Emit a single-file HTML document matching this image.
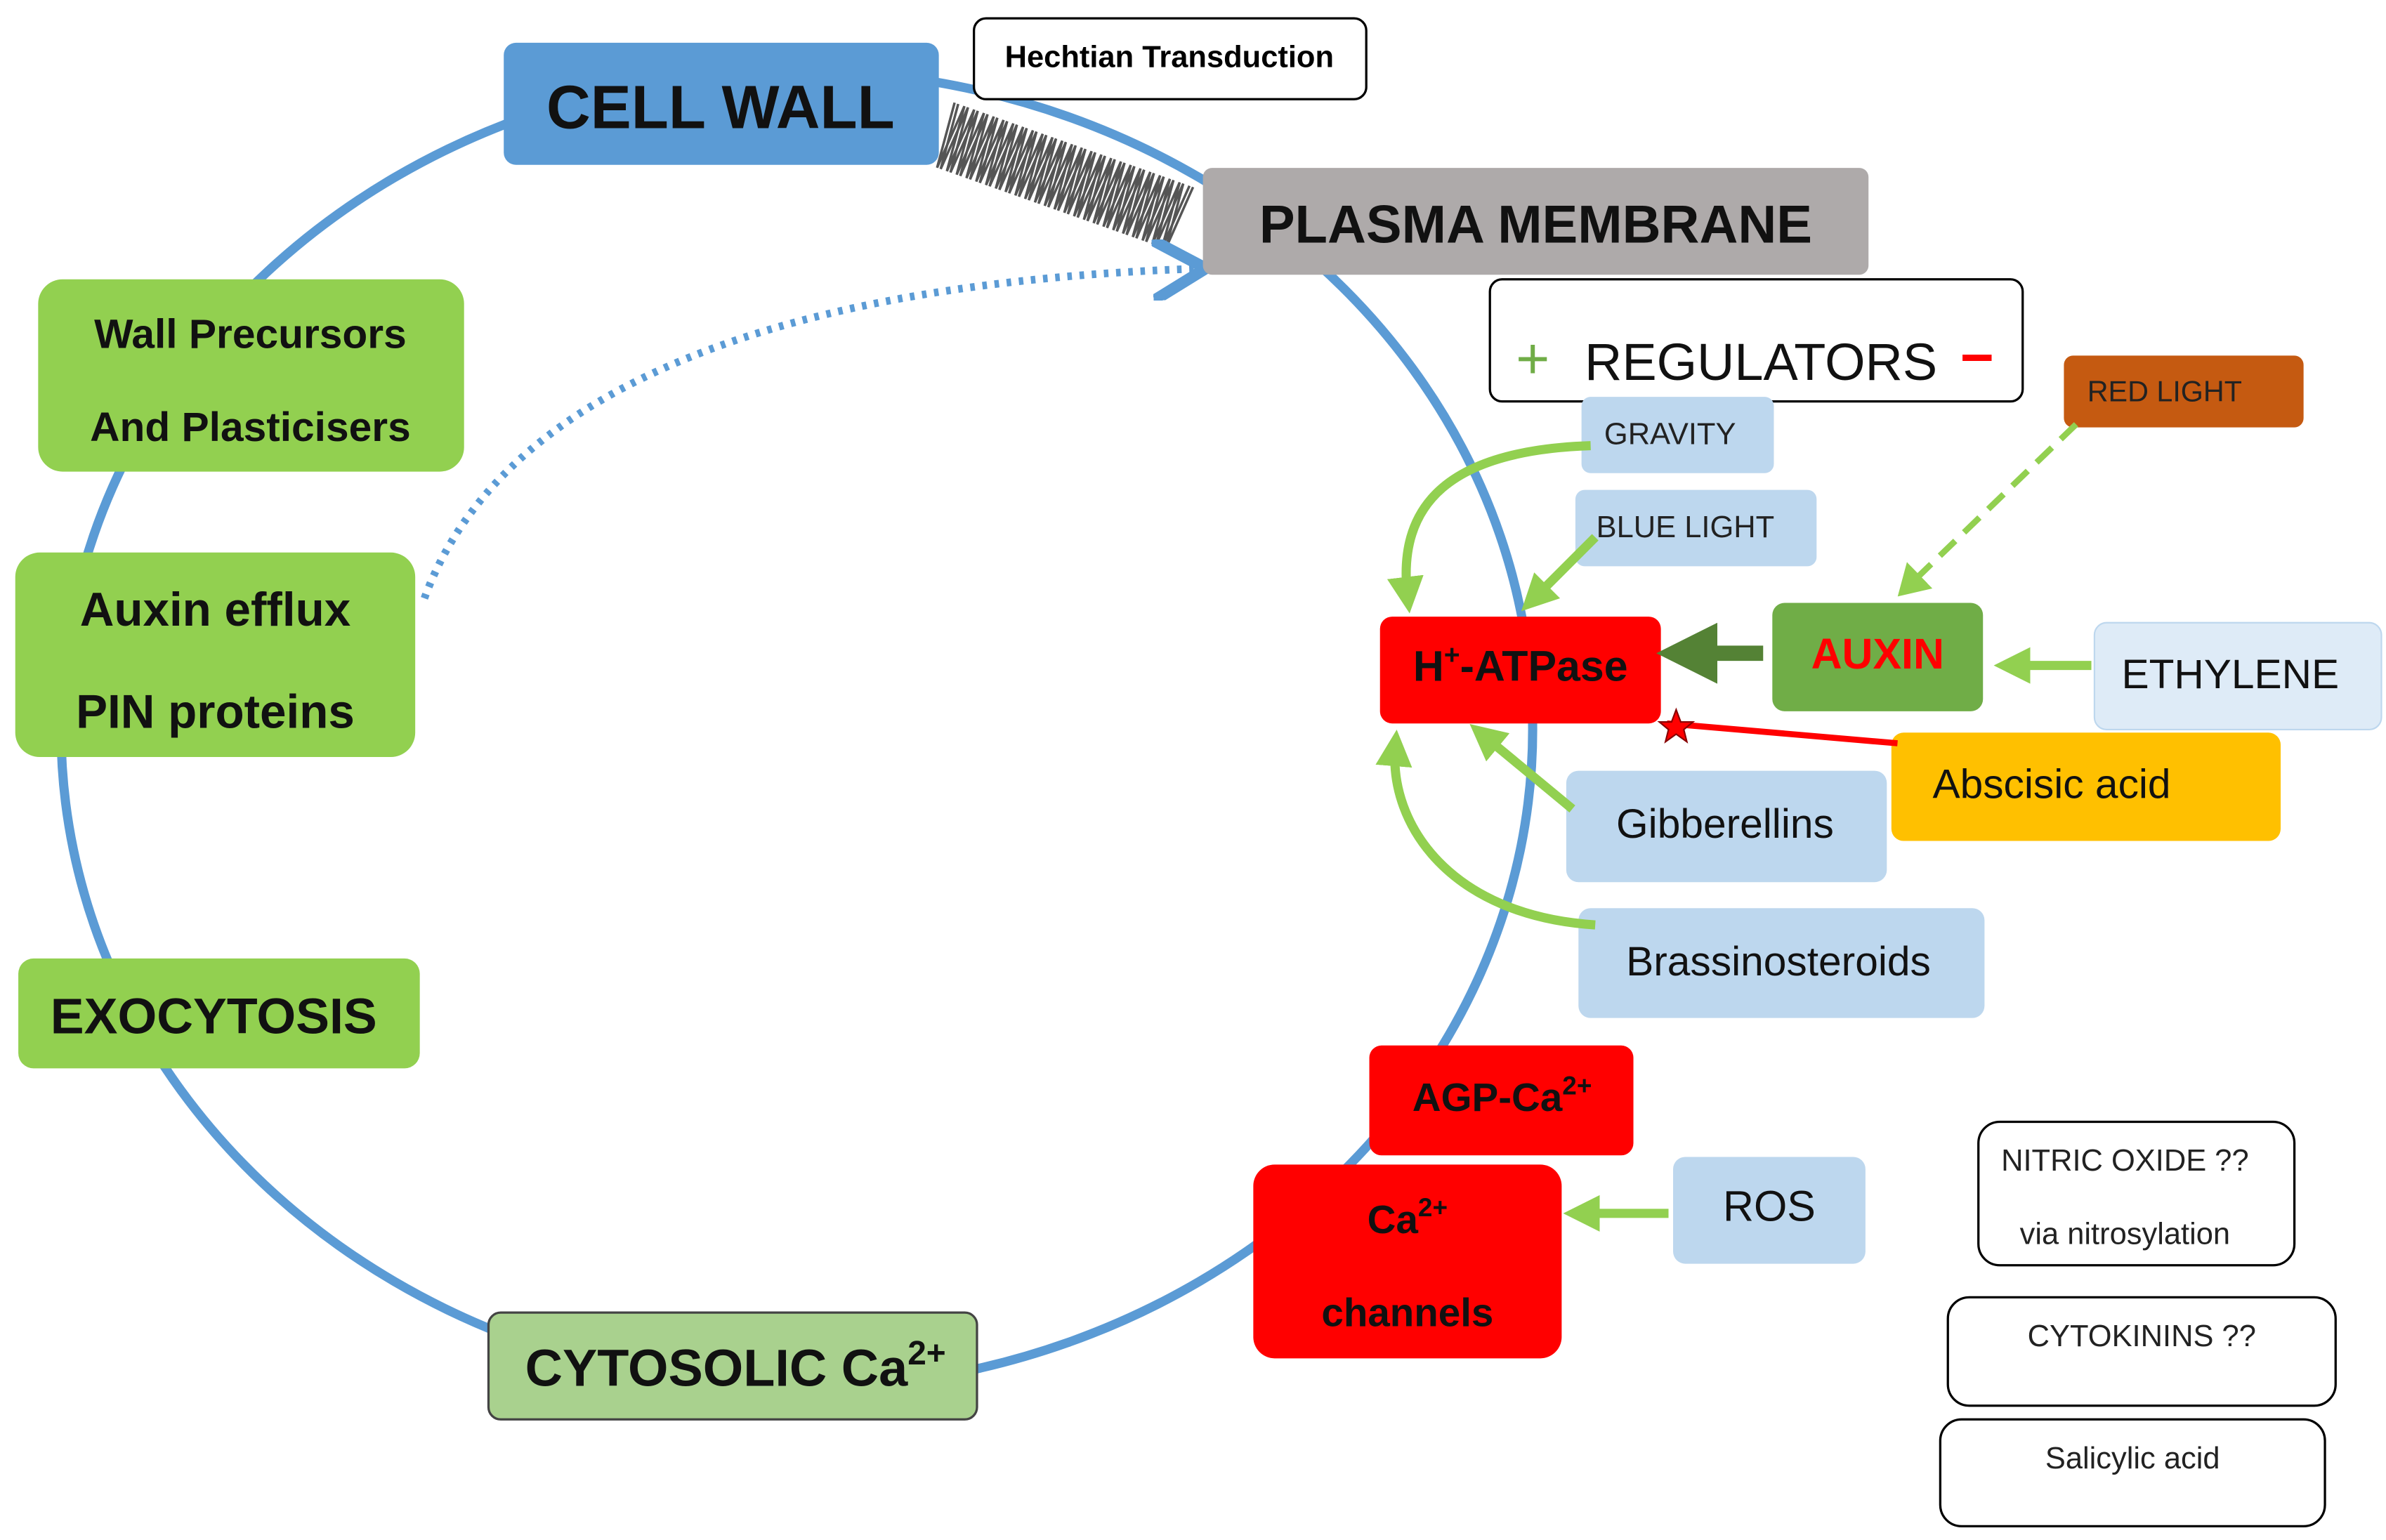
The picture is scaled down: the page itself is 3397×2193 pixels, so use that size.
<!DOCTYPE html>
<html><head><meta charset="utf-8"><style>
html,body{margin:0;padding:0;background:#fff;}
svg{display:block;}
text{font-family:"Liberation Sans","DejaVu Sans",sans-serif;}
</style></head><body>
<svg width="3397" height="2193" viewBox="0 0 1563 1009" xmlns="http://www.w3.org/2000/svg">
<defs>
<marker id="ga" markerWidth="4" markerHeight="4" refX="2" refY="2" orient="auto"><path d="M0,0 L4,2 L0,4 z" fill="#92d050"/></marker>
<marker id="da" markerWidth="4" markerHeight="4" refX="2" refY="2" orient="auto"><path d="M0,0 L4,2 L0,4 z" fill="#548235"/></marker>
<marker id="la" markerWidth="6" markerHeight="6" refX="4" refY="3" orient="auto"><path d="M0,0 L5,3 L0,6 z" fill="#92d050"/></marker>
<marker id="ba" markerWidth="8" markerHeight="8" refX="6" refY="4" orient="auto"><path d="M0,0 L7,4 L0,8" fill="none" stroke="#5b9bd5" stroke-width="1.5"/></marker>
</defs>
<rect width="1563" height="1009" fill="#fff"/>
<ellipse cx="522" cy="478" rx="482" ry="432" fill="none" stroke="#5b9bd5" stroke-width="6"/>
<!-- spring -->
<g transform="translate(618,88) rotate(19.5)" fill="none" stroke="#555" stroke-width="1.6">
<path d="M0,-22 l3.4,44 l3.4,-44 l3.4,44 l3.4,-44 l3.4,44 l3.4,-44 l3.4,44 l3.4,-44 l3.4,44 l3.4,-44 l3.4,44 l3.4,-44 l3.4,44 l3.4,-44 l3.4,44 l3.4,-44 l3.4,44 l3.4,-44 l3.4,44 l3.4,-44 l3.4,44 l3.4,-44 l3.4,44 l3.4,-44 l3.4,44 l3.4,-44 l3.4,44 l3.4,-44 l3.4,44 l3.4,-44 l3.4,44 l3.4,-44 l3.4,44 l3.4,-44 l3.4,44 l3.4,-44 l3.4,44 l3.4,-44 l3.4,44 l3.4,-44 l3.4,44 l3.4,-44 l3.4,44 l3.4,-44 l3.4,44 l3.4,-44 l3.4,44 l3.4,-44"/>
<path d="M2.5,-22 l3.4,44 l3.4,-44 l3.4,44 l3.4,-44 l3.4,44 l3.4,-44 l3.4,44 l3.4,-44 l3.4,44 l3.4,-44 l3.4,44 l3.4,-44 l3.4,44 l3.4,-44 l3.4,44 l3.4,-44 l3.4,44 l3.4,-44 l3.4,44 l3.4,-44 l3.4,44 l3.4,-44 l3.4,44 l3.4,-44 l3.4,44 l3.4,-44 l3.4,44 l3.4,-44 l3.4,44 l3.4,-44 l3.4,44 l3.4,-44 l3.4,44 l3.4,-44 l3.4,44 l3.4,-44 l3.4,44 l3.4,-44 l3.4,44 l3.4,-44 l3.4,44 l3.4,-44 l3.4,44 l3.4,-44 l3.4,44 l3.4,-44 l3.4,44 l3.4,-44"/>
</g>
<!-- dotted arc -->
<path d="M278,392 C330,250 520,185 785,176" fill="none" stroke="#5b9bd5" stroke-width="5" stroke-dasharray="3,5" marker-end="url(#ba)"/>
<!-- boxes -->
<rect x="330" y="28" width="285" height="80" rx="8" fill="#5b9bd5"/>
<text x="472" y="84" font-size="40" font-weight="bold" text-anchor="middle" fill="#111">CELL WALL</text>
<rect x="638" y="12" width="257" height="53" rx="8" fill="#fff" stroke="#000" stroke-width="1.5"/>
<text x="766" y="44" font-size="20" font-weight="bold" text-anchor="middle">Hechtian Transduction</text>
<rect x="788" y="110" width="436" height="70" rx="6" fill="#aeaaaa"/>
<text x="1006" y="159" font-size="35" font-weight="bold" text-anchor="middle" fill="#111">PLASMA MEMBRANE</text>
<rect x="976" y="183" width="349" height="80" rx="8" fill="#fff" stroke="#000" stroke-width="1.5"/>
<text x="993" y="248" font-size="38" fill="#70ad47">+</text>
<text x="1038" y="249" font-size="34" fill="#111">REGULATORS</text>
<text x="1284" y="247" font-size="38" fill="#ff0000" font-weight="bold">−</text>
<rect x="1352" y="233" width="157" height="47" rx="6" fill="#c55a11"/>
<text x="1418" y="263" font-size="19" text-anchor="middle" fill="#222">RED LIGHT</text>
<rect x="25" y="183" width="279" height="126" rx="16" fill="#92d050"/>
<text x="164" y="228" font-size="27" font-weight="bold" text-anchor="middle" fill="#111">Wall Precursors</text>
<text x="164" y="289" font-size="27" font-weight="bold" text-anchor="middle" fill="#111">And Plasticisers</text>
<rect x="10" y="362" width="262" height="134" rx="16" fill="#92d050"/>
<text x="141" y="410" font-size="31" font-weight="bold" text-anchor="middle" fill="#111">Auxin efflux</text>
<text x="141" y="477" font-size="31" font-weight="bold" text-anchor="middle" fill="#111">PIN proteins</text>
<rect x="12" y="628" width="263" height="72" rx="10" fill="#92d050"/>
<text x="140" y="677" font-size="33" font-weight="bold" text-anchor="middle" fill="#111">EXOCYTOSIS</text>
<rect x="320" y="860" width="320" height="70" rx="8" fill="#a9d18e" stroke="#444" stroke-width="1.5"/>
<text x="344" y="908" font-size="34" font-weight="bold" fill="#111">CYTOSOLIC Ca<tspan font-size="22" dy="-14">2+</tspan></text>
<rect x="1036" y="260" width="126" height="50" rx="6" fill="#bdd7ee"/>
<text x="1094" y="291" font-size="20" text-anchor="middle" fill="#222">GRAVITY</text>
<rect x="1032" y="321" width="158" height="50" rx="6" fill="#bdd7ee"/>
<text x="1104" y="352" font-size="20" text-anchor="middle" fill="#222">BLUE LIGHT</text>
<rect x="904" y="404" width="184" height="70" rx="8" fill="#ff0000"/>
<text x="996" y="446" font-size="28" font-weight="bold" text-anchor="middle" fill="#111">H<tspan font-size="18" dy="-11">+</tspan><tspan dy="11">-ATPase</tspan></text>
<rect x="1161" y="395" width="138" height="71" rx="8" fill="#70ad47"/>
<text x="1230" y="438" font-size="28" font-weight="bold" text-anchor="middle" fill="#ff0000">AUXIN</text>
<rect x="1372" y="408" width="188" height="70" rx="8" fill="#deebf7" stroke="#bdd7ee"/>
<text x="1461" y="451" font-size="27" text-anchor="middle" fill="#111">ETHYLENE</text>
<rect x="1239" y="480" width="255" height="71" rx="8" fill="#ffc000"/>
<text x="1344" y="523" font-size="27" text-anchor="middle" fill="#111">Abscisic acid</text>
<rect x="1026" y="505" width="210" height="73" rx="8" fill="#bdd7ee"/>
<text x="1130" y="549" font-size="27" text-anchor="middle" fill="#111">Gibberellins</text>
<rect x="1034" y="595" width="266" height="72" rx="8" fill="#bdd7ee"/>
<text x="1165" y="639" font-size="27" text-anchor="middle" fill="#111">Brassinosteroids</text>
<rect x="897" y="685" width="173" height="72" rx="8" fill="#ff0000"/>
<text x="984" y="728" font-size="26" font-weight="bold" text-anchor="middle" fill="#111">AGP-Ca<tspan font-size="17" dy="-11">2+</tspan></text>
<rect x="821" y="763" width="202" height="127" rx="14" fill="#ff0000"/>
<text x="922" y="808" font-size="26" font-weight="bold" text-anchor="middle" fill="#111">Ca<tspan font-size="17" dy="-11">2+</tspan></text>
<text x="922" y="869" font-size="26" font-weight="bold" text-anchor="middle" fill="#111">channels</text>
<rect x="1096" y="758" width="126" height="70" rx="8" fill="#bdd7ee"/>
<text x="1159" y="800" font-size="28" text-anchor="middle" fill="#111">ROS</text>
<rect x="1296" y="735" width="207" height="94" rx="14" fill="#fff" stroke="#000" stroke-width="1.5"/>
<text x="1392" y="767" font-size="20" text-anchor="middle" fill="#222">NITRIC OXIDE ??</text>
<text x="1392" y="815" font-size="20" text-anchor="middle" fill="#222">via nitrosylation</text>
<rect x="1276" y="850" width="254" height="71" rx="14" fill="#fff" stroke="#000" stroke-width="1.5"/>
<text x="1403" y="882" font-size="20" text-anchor="middle" fill="#222">CYTOKININS ??</text>
<rect x="1271" y="930" width="252" height="70" rx="14" fill="#fff" stroke="#000" stroke-width="1.5"/>
<text x="1397" y="962" font-size="20" text-anchor="middle" fill="#222">Salicylic acid</text>
<!-- arrows -->
<g fill="none" stroke="#92d050" stroke-width="6">
<path d="M1042,292 C950,295 915,330 922,390" marker-end="url(#ga)"/>
<path d="M1045,352 L1005,392" marker-end="url(#ga)"/>
<path d="M1370,436 L1318,436" marker-end="url(#ga)"/>
<path d="M1030,530 L972,482" marker-end="url(#ga)"/>
<path d="M1045,606 C950,600 910,540 914,490" marker-end="url(#ga)"/>
<path d="M1093,795 L1036,795" marker-end="url(#ga)"/>
</g>
<path d="M1155,428 L1105,428" stroke="#548235" stroke-width="10" fill="none" marker-end="url(#da)"/>
<path d="M1360,278 L1246,388" stroke="#92d050" stroke-width="4" stroke-dasharray="14,8" fill="none" marker-end="url(#la)"/>
<path d="M1243,487 L1092,474" stroke="#ff0000" stroke-width="4"/>
<path d="M1098,465 l3,8 l8,0 l-6,5 l2,8 l-7,-5 l-7,5 l2,-8 l-6,-5 l8,0 z" fill="#ff0000" stroke="#800" stroke-width="1"/>
</svg>
</body></html>
